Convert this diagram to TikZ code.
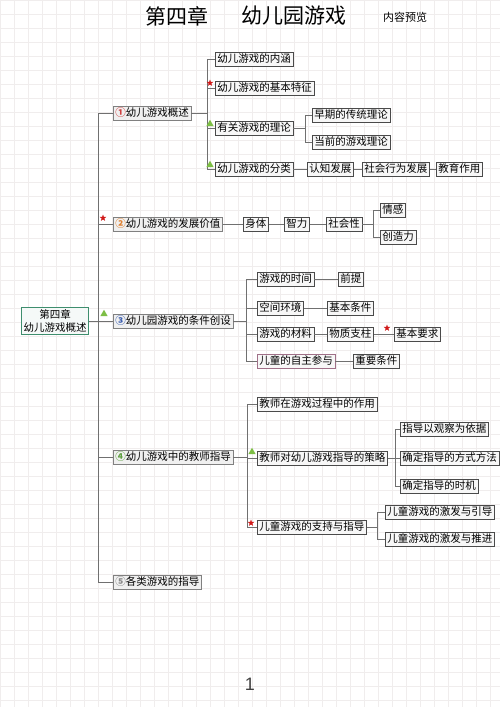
\documentclass[tikz,border=0pt]{standalone}
\usepackage{fontspec}
\setmainfont{Noto Sans CJK SC}
\newfontfamily\pnum{Liberation Sans}
\usetikzlibrary{shapes.geometric,calc}
\definecolor{gridc}{HTML}{F0EDED}
\definecolor{linkc}{HTML}{707070}
\definecolor{boxc}{HTML}{4A4A4A}
\definecolor{rootc}{HTML}{3E8E6E}
\definecolor{starc}{HTML}{D01818}
\definecolor{tric}{HTML}{7DBE45}
\definecolor{ic1}{HTML}{D04040}
\definecolor{ic2}{HTML}{E08030}
\definecolor{ic3}{HTML}{3D5FB0}
\definecolor{ic4}{HTML}{5EA040}
\definecolor{ic5}{HTML}{8A8A8A}
\definecolor{pinkb}{HTML}{A07088}
\begin{document}
\begin{tikzpicture}[x=1pt,y=-1pt,
  box/.style={draw=boxc,line width=0.9pt,fill=black!3,inner xsep=2pt,inner ysep=1.6pt,
    font=\fontsize{10.5}{12}\selectfont,anchor=west,text height=9pt,text depth=1.8pt},
  lone/.style={box,draw=black!50,fill=black!6},
  link/.style={draw=linkc,line width=0.7pt},
  redstar/.style={star,star points=5,star point ratio=2.4,fill=starc,inner sep=0pt,minimum size=7pt},
  greentri/.style={regular polygon,regular polygon sides=3,fill=tric,inner sep=0pt,minimum size=8.5pt},
  rootbox/.style={draw=rootc,line width=1.1pt,fill=rootc!5,align=center,inner xsep=2pt,inner ysep=2pt,
    font=\fontsize{10.5}{12.5}\selectfont}]
\useasboundingbox (0,0) rectangle (500,707);
\fill[white] (0,0) rectangle (500,707);
% grid
\foreach \gx in {0,14,...,500} \draw[gridc,line width=0.5pt] (\gx,0) -- (\gx,707);
\foreach \gy in {0,14,...,707} \draw[gridc,line width=0.5pt] (0,\gy) -- (500,\gy);

% header
\node[font=\fontsize{21}{24}\selectfont] (h1) at (177,16) {第四章};
\node[font=\fontsize{21}{24}\selectfont] (h2) at (294,16) {幼儿园游戏};
\node[font=\fontsize{11}{12}\selectfont] (h3) at (405,17) {内容预览};
\node[font=\pnum\fontsize{18}{20}\selectfont,text=black!75] (pg) at (250,684) {1};

% root
\node[rootbox] (root) at (55,321) {第四章\\幼儿游戏概述};
\coordinate (T) at (98,321);

% level 1
\node[lone] (a) at (113,113) {{\bfseries\color{ic1}①}幼儿游戏概述};
\node[lone] (b) at (113,224) {{\bfseries\color{ic2}②}幼儿游戏的发展价值};
\node[lone] (c) at (113,321) {{\bfseries\color{ic3}③}幼儿园游戏的条件创设};
\node[lone] (d) at (113,457) {{\bfseries\color{ic4}④}幼儿游戏中的教师指导};
\node[lone] (e) at (113,582) {{\bfseries\color{ic5}⑤}各类游戏的指导};
\draw[link] (root.east) -- (T);
\foreach \n in {a,b,c,d,e} \draw[link] (T) |- (\n.west);
\node[redstar] (sb) at ($(b.west)+(-10,-6)$) {};
\node[greentri] (tc) at ($(c.west)+(-9,-7)$) {};

% branch a
\coordinate (A) at (207,113);
\node[box] (a1) at (215,59) {幼儿游戏的内涵};
\node[box] (a2) at (215,88) {幼儿游戏的基本特征};
\node[box] (a3) at (215,128) {有关游戏的理论};
\node[box] (a4) at (215,169) {幼儿游戏的分类};
\draw[link] (a.east) -- (A);
\foreach \n in {a1,a2,a3,a4} \draw[link] (A) |- (\n.west);
\node[redstar] (sa2) at ($(a2.west)+(-5,-5)$) {};
\node[greentri] (ta3) at ($(a3.west)+(-5,-4)$) {};
\node[greentri] (ta4) at ($(a4.west)+(-5,-4)$) {};
\coordinate (A3) at (305,128);
\node[box] (a31) at (312,115) {早期的传统理论};
\node[box] (a32) at (312,142) {当前的游戏理论};
\draw[link] (a3.east) -- (A3);
\foreach \n in {a31,a32} \draw[link] (A3) |- (\n.west);
\node[box] (a41) at (307,169) {认知发展};
\node[box] (a42) at (362,169) {社会行为发展};
\node[box] (a43) at (436,169) {教育作用};
\draw[link] (a4) -- (a41);
\draw[link] (a41) -- (a42);
\draw[link] (a42) -- (a43);

% branch b
\node[box] (b1) at (243,224) {身体};
\node[box] (b2) at (284,224) {智力};
\node[box] (b3) at (326,224) {社会性};
\draw[link] (b) -- (b1);
\draw[link] (b1) -- (b2);
\draw[link] (b2) -- (b3);
\coordinate (B3) at (373,224);
\node[box] (b31) at (380,210) {情感};
\node[box] (b32) at (380,237) {创造力};
\draw[link] (b3.east) -- (B3);
\foreach \n in {b31,b32} \draw[link] (B3) |- (\n.west);

% branch c
\coordinate (C) at (246,321);
\node[box] (c1) at (257,279) {游戏的时间};
\node[box] (c2) at (257,308) {空间环境};
\node[box] (c3) at (257,334) {游戏的材料};
\node[box,draw=pinkb] (c4) at (257,361) {儿童的自主参与};
\draw[link] (c.east) -- (C);
\foreach \n in {c1,c2,c3,c4} \draw[link] (C) |- (\n.west);
\node[box] (c11) at (338,279) {前提};
\node[box] (c21) at (327,308) {基本条件};
\node[box] (c31) at (327,334) {物质支柱};
\node[box] (c32) at (394,334) {基本要求};
\node[box] (c41) at (353,361) {重要条件};
\draw[link] (c1) -- (c11);
\draw[link] (c2) -- (c21);
\draw[link] (c3) -- (c31);
\draw[link] (c31) -- (c32);
\draw[link] (c4) -- (c41);
\node[redstar] (sc32) at ($(c32.west)+(-7,-6)$) {};

% branch d
\coordinate (D) at (247,457);
\node[box] (d1) at (257,404) {教师在游戏过程中的作用};
\node[box] (d2) at (257,458) {教师对幼儿游戏指导的策略};
\node[box] (d3) at (257,527) {儿童游戏的支持与指导};
\draw[link] (d.east) -- (D);
\foreach \n in {d1,d2,d3} \draw[link] (D) |- (\n.west);
\node[greentri] (td2) at ($(d2.west)+(-5,-6)$) {};
\node[redstar] (sd3) at ($(d3.west)+(-6,-4)$) {};
\coordinate (D2) at (395,458);
\node[box] (d21) at (400,429) {指导以观察为依据};
\node[box] (d22) at (400,458) {确定指导的方式方法};
\node[box] (d23) at (400,486) {确定指导的时机};
\draw[link] (d2.east) -- (D2);
\foreach \n in {d21,d22,d23} \draw[link] (D2) |- (\n.west);
\coordinate (D3) at (377,527);
\node[box] (d31) at (385,512) {儿童游戏的激发与引导};
\node[box] (d32) at (385,539) {儿童游戏的激发与推进};
\draw[link] (d3.east) -- (D3);
\foreach \n in {d31,d32} \draw[link] (D3) |- (\n.west);
\end{tikzpicture}
\end{document}
